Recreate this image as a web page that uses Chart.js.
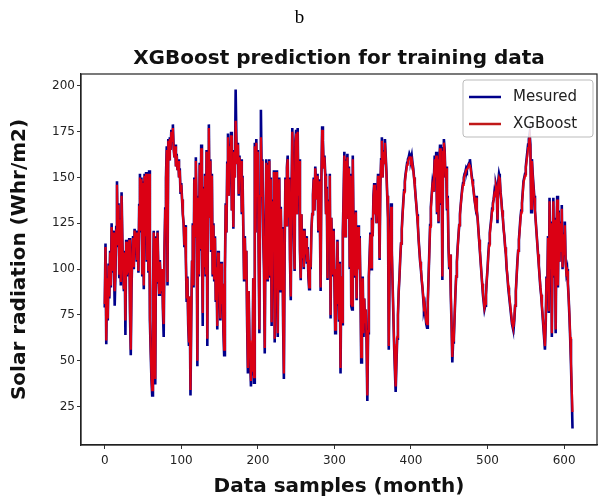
<!DOCTYPE html>
<html>
<head>
<meta charset="utf-8">
<script src="https://cdn.jsdelivr.net/npm/chart.js@4.4.0/dist/chart.umd.min.js"></script>
<style>
html, body { margin: 0; padding: 0; background: #fff; }
#wrap { position: relative; width: 599px; height: 500px; }
#chart { position: absolute; left: 0; top: 0; }
#panel { position: absolute; left: 0; top: 6px; width: 599px; text-align: center;
         font-family: "Liberation Serif", serif; font-size: 19px; line-height: 22px; color: #000; }
</style>
</head>
<body>
<div id="wrap">
  <canvas id="chart" width="599" height="500"></canvas>
  <div id="panel">b</div>
</div>
<script>
var measured = [
  79,114,59,96,72,103,84,110,90,125,98,121,
  104,80,97,123,148,112,136,95,128,91,142,117,
  100,88,110,64,116,96,114,98,117,76,53,90,
  108,118,100,122,112,121,104,118,98,135,152,120,
  150,96,148,89,152,118,153,104,150,98,154,72,
  55,40,31,88,121,60,37,118,92,121,100,86,
  105,94,87,100,78,63,110,133,150,167,91,171,
  160,172,165,176,170,179,166,161,168,156,163,154,
  160,150,155,141,147,138,130,125,112,124,105,82,
  96,70,58,85,31,72,104,125,90,150,118,161,
  130,47,140,96,158,110,168,120,69,145,100,152,
  96,165,58,150,179,128,160,110,152,96,125,94,
  118,82,101,67,110,88,96,72,104,80,92,66,
  53,100,136,120,158,174,140,168,156,175,132,160,
  122,165,150,198,170,158,169,140,162,151,160,130,
  151,122,94,118,96,110,70,43,88,62,50,36,
  60,42,95,38,169,120,171,140,165,110,65,140,
  187,150,160,118,100,54,120,160,94,158,110,160,
  96,150,69,138,112,154,60,130,154,100,63,128,
  150,88,134,108,123,70,40,110,150,124,156,162,
  128,150,105,83,140,177,150,120,99,170,176,130,
  177,140,160,110,94,130,105,122,100,122,108,118,
  103,112,96,89,105,100,122,130,141,150,132,156,
  148,138,152,120,149,128,88,150,178,170,155,162,
  152,130,145,94,138,120,152,73,128,110,96,122,
  94,65,100,80,116,90,72,104,43,96,70,120,
  140,164,118,160,150,163,128,156,100,152,80,78,
  162,120,131,96,132,83,116,124,100,118,90,49,
  80,96,63,84,70,78,60,28,65,96,108,120,
  100,128,118,140,147,130,144,125,140,152,138,105,
  145,160,172,150,165,158,171,162,153,140,128,56,
  96,120,136,110,92,75,58,45,33,48,62,75,
  88,96,106,114,122,130,137,143,148,152,155,158,
  160,161,163,162,160,162,158,155,150,146,140,135,
  130,124,116,110,104,100,94,90,84,78,80,74,
  70,68,82,96,110,124,134,140,146,143,150,162,
  150,164,130,162,125,158,168,135,160,94,166,171,
  165,150,156,132,140,112,100,108,86,70,49,60,
  62,74,86,96,104,112,118,124,130,135,140,144,
  147,150,152,153,155,154,156,157,158,160,156,152,
  149,146,142,138,135,140,132,128,122,116,110,104,
  98,92,86,82,78,80,86,94,100,108,114,120,
  124,128,133,136,138,142,140,146,144,125,148,152,
  150,142,138,132,128,122,118,112,108,100,96,90,
  86,82,78,74,70,68,67,72,80,88,96,104,
  110,116,122,128,132,136,142,148,150,152,156,160,
  164,168,171,174,168,131,160,152,146,140,132,126,
  120,114,108,102,96,90,86,80,74,68,62,56,
  70,96,88,118,76,139,100,126,63,110,139,96,
  128,65,118,140,90,132,104,126,110,135,100,120,
  108,126,104,98,100,92,84,74,62,48,32,13
];
var xgboost = [
  81,112,61,95,73,102,85,109,91,123,99,120,
  103,88,98,121,146,113,135,97,127,93,140,117,
  100,89,109,72,115,97,113,98,116,78,56,91,
  108,117,101,121,112,120,105,117,99,134,150,121,
  149,97,147,91,151,118,152,105,149,99,152,74,
  57,42,34,89,120,61,40,117,93,120,100,87,
  104,94,88,100,79,70,110,132,149,165,93,170,
  160,171,165,175,170,177,166,161,167,156,162,154,
  159,150,154,142,146,138,130,125,113,123,105,84,
  95,71,60,85,34,73,104,124,91,149,118,159,
  130,50,139,97,157,111,166,120,76,144,101,151,
  97,164,62,149,177,128,159,111,151,97,124,95,
  117,83,101,69,109,88,96,73,103,81,92,68,
  56,100,135,120,157,172,140,167,156,173,132,159,
  123,164,150,181,169,158,168,141,161,151,159,131,
  150,122,95,117,97,110,71,46,88,63,52,39,
  61,44,95,41,167,120,169,140,164,111,67,140,
  172,150,159,118,101,57,120,158,95,157,110,159,
  97,149,71,137,112,153,62,130,153,101,65,128,
  149,89,133,108,122,71,43,110,149,124,155,160,
  128,149,105,85,140,175,150,120,100,169,174,130,
  175,140,159,110,95,130,106,121,101,121,108,117,
  104,111,97,90,105,101,121,130,140,149,132,155,
  148,138,151,121,148,128,90,149,176,169,155,161,
  151,130,144,95,137,120,151,75,128,110,97,121,
  95,67,100,81,115,91,73,103,46,96,71,119,
  140,162,118,159,150,161,128,155,101,151,81,80,
  160,120,130,97,131,84,116,123,100,117,91,52,
  81,95,65,84,71,78,62,31,66,96,107,119,
  101,127,118,139,146,130,143,125,139,151,137,106,
  145,159,170,150,164,158,169,161,152,140,127,58,
  96,119,134,110,92,76,59,47,36,49,63,75,
  88,96,106,114,121,129,136,142,147,151,154,157,
  159,160,161,161,159,160,157,154,150,145,140,135,
  129,124,116,110,104,100,95,90,85,79,80,75,
  71,70,82,96,109,123,133,139,145,143,149,160,
  150,162,131,160,126,157,166,136,158,96,164,169,
  164,150,155,133,139,113,101,108,87,71,52,61,
  63,74,86,96,104,111,118,124,129,135,139,143,
  146,149,151,152,154,154,155,156,157,156,155,151,
  148,145,142,138,135,139,132,128,122,116,110,104,
  98,92,87,83,79,81,86,94,100,107,113,119,
  123,127,132,135,138,141,140,145,143,127,147,150,
  149,142,137,132,128,122,118,112,108,101,96,91,
  87,83,79,75,71,69,69,73,80,88,96,103,
  110,116,121,127,131,136,141,147,149,151,155,159,
  162,166,169,172,166,133,159,151,145,139,132,126,
  120,114,108,102,96,91,86,80,75,69,63,58,
  71,95,88,117,77,137,100,125,65,110,137,97,
  127,67,118,138,91,131,104,125,110,133,101,119,
  108,124,104,98,99,92,84,75,63,50,35,22
];
var months = measured.map(function (v, i) { return i; });
var xTicks = [0, 100, 200, 300, 400, 500, 600];
var yTicks = [25, 50, 75, 100, 125, 150, 175, 200];

function pts(arr) {
  return arr.map(function (v, i) { return { x: months[i], y: v }; });
}

// box round the plot, like matplotlib spines
var frame = {
  id: 'frame',
  afterDatasetsDraw: function (chart) {
    var a = chart.chartArea, c = chart.ctx;
    c.save();
    c.strokeStyle = '#222';
    c.lineWidth = 1.2;
    c.strokeRect(a.left, a.top, a.right - a.left, a.bottom - a.top);
    c.restore();
  }
};

// legend box in the upper right corner
var boxLegend = {
  id: 'boxLegend',
  afterDraw: function (chart) {
    var a = chart.chartArea, c = chart.ctx;
    var w = 130, h = 57, x = a.right - w - 4, y = a.top + 6;
    c.save();
    c.fillStyle = 'rgba(255,255,255,0.85)';
    c.strokeStyle = '#bbb';
    c.lineWidth = 1;
    c.beginPath();
    c.roundRect(x, y, w, h, 3);
    c.fill();
    c.stroke();
    c.font = '15px "DejaVu Sans"';
    c.textBaseline = 'middle';
    chart.data.datasets.forEach(function (ds, i) {
      var ly = y + 17 + i * 27;
      c.strokeStyle = ds.legendColor;
      c.lineWidth = 2.5;
      c.beginPath();
      c.moveTo(x + 6, ly);
      c.lineTo(x + 38, ly);
      c.stroke();
      c.fillStyle = '#222';
      c.fillText(ds.label, x + 50, ly);
    });
    c.restore();
  }
};

new Chart(document.getElementById('chart').getContext('2d'), {
  type: 'line',
  data: {
    datasets: [{
      label: 'Mesured',
      data: pts(measured),
      borderColor: '#00008b',
      legendColor: '#00008b',
      borderWidth: 2.6,
      pointRadius: 0,
      fill: false,
      tension: 0,
      order: 2
    }, {
      label: 'XGBoost',
      data: pts(xgboost),
      borderColor: 'rgba(255,0,0,0.86)',
      legendColor: '#c01818',
      borderWidth: 2.2,
      pointRadius: 0,
      fill: false,
      tension: 0,
      order: 1
    }]
  },
  options: {
    responsive: false,
    animation: false,
    events: [],
    layout: { padding: { left: 0, right: 2, top: 0, bottom: 0 } },
    plugins: {
      legend: { display: false },
      tooltip: { enabled: false },
      title: {
        display: true,
        fullSize: false,
        text: 'XGBoost prediction for training data',
        color: '#111',
        font: { family: 'DejaVu Sans', size: 20, weight: 'bold' },
        padding: { top: 47, bottom: 3 }
      }
    },
    scales: {
      x: {
        type: 'linear',
        min: -31,
        max: 643,
        afterBuildTicks: function (scale) {
          scale.ticks = xTicks.map(function (v) { return { value: v }; });
        },
        afterFit: function (scale) { scale.height = 55; },
        grid: { drawOnChartArea: false, drawTicks: true, tickLength: 4, color: '#333' },
        border: { display: true, color: '#222', width: 1.2 },
        ticks: { color: '#222', padding: 5, maxRotation: 0,
                 font: { family: 'DejaVu Sans', size: 12 } },
        title: {
          display: true,
          text: 'Data samples (month)',
          color: '#111',
          font: { family: 'DejaVu Sans', size: 20, weight: 'bold' },
          padding: { top: 0, bottom: 1 }
        }
      },
      y: {
        min: 4,
        max: 206.5,
        afterBuildTicks: function (scale) {
          scale.ticks = yTicks.map(function (v) { return { value: v }; });
        },
        afterFit: function (scale) { scale.width = 81; },
        grid: { drawOnChartArea: false, drawTicks: true, tickLength: 4, color: '#333' },
        border: { display: true, color: '#222', width: 1.2 },
        ticks: { color: '#222', padding: 2,
                 font: { family: 'DejaVu Sans', size: 12 } },
        title: {
          display: true,
          text: 'Solar radiation (Whr/m2)',
          color: '#111',
          font: { family: 'DejaVu Sans', size: 20, weight: 'bold' },
          padding: { top: 8, bottom: 0 }
        }
      }
    }
  },
  plugins: [frame, boxLegend]
});
</script>
</body>
</html>
